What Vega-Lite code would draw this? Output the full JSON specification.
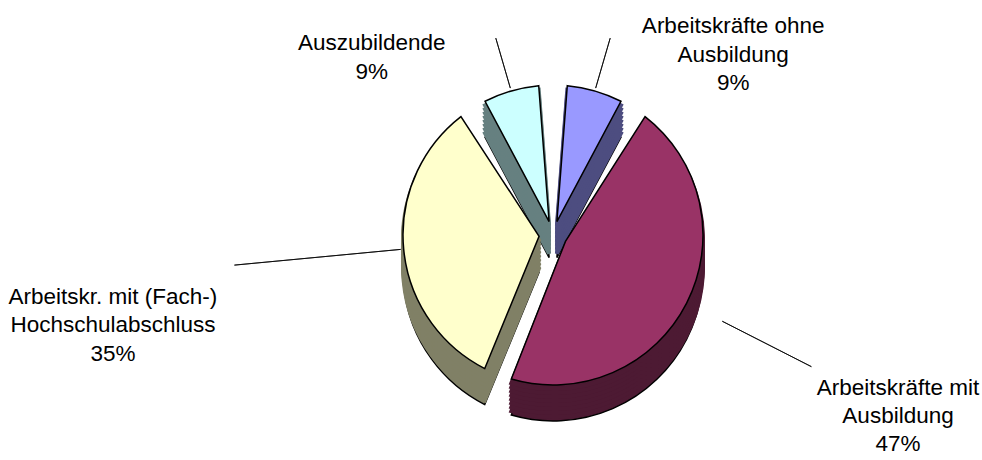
{
  "$schema": "https://vega.github.io/schema/vega-lite/v6.json",
  "width": 858,
  "height": 440,
  "autosize": "none",
  "padding": {"left": 124, "top": 15, "right": 0, "bottom": 5},
  "background": "white",
  "config": {"view": {"stroke": null}},
  "data": {"values": [
    {"idx": 1, "cat": "Arbeitskräfte ohne Ausbildung", "label": "Arbeitskräfte ohne\nAusbildung\n9%", "value": 9},
    {"idx": 2, "cat": "Arbeitskräfte mit Ausbildung", "label": "Arbeitskräfte mit\nAusbildung\n47%", "value": 47},
    {"idx": 3, "cat": "Arbeitskr. mit (Fach-) Hochschulabschluss", "label": "Arbeitskr. mit (Fach-)\nHochschulabschluss\n35%", "value": 35},
    {"idx": 4, "cat": "Auszubildende", "label": "Auszubildende\n9%", "value": 9}
  ]},
  "encoding": {
    "theta": {"field": "value", "type": "quantitative", "stack": true},
    "order": {"field": "idx", "type": "quantitative"}
  },
  "layer": [
    {"mark": {"type": "arc", "outerRadius": 150, "innerRadius": 14, "padAngle": 0.19, "yOffset": 36, "stroke": "black", "strokeWidth": 1.5},
     "encoding": {"fill": {"field": "cat", "type": "nominal", "legend": null, "scale": {"domain": ["Arbeitskräfte ohne Ausbildung", "Arbeitskräfte mit Ausbildung", "Arbeitskr. mit (Fach-) Hochschulabschluss", "Auszubildende"], "range": ["#4D4D80", "#4D1A33", "#808066", "#668080"]}},
       "opacity": {"condition": {"test": "datum.idx==1 || datum.idx==4", "value": 1}, "value": 0}}},
    {"mark": {"type": "arc", "outerRadius": 150, "innerRadius": 14, "padAngle": 0.19, "yOffset": 32, "strokeWidth": 4},
     "encoding": {"fill": {"field": "cat", "type": "nominal", "legend": null}, "stroke": {"field": "cat", "type": "nominal", "legend": null, "scale": {"domain": ["Arbeitskräfte ohne Ausbildung", "Arbeitskräfte mit Ausbildung", "Arbeitskr. mit (Fach-) Hochschulabschluss", "Auszubildende"], "range": ["#4D4D80", "#4D1A33", "#808066", "#668080"]}},
       "opacity": {"condition": {"test": "datum.idx==1 || datum.idx==4", "value": 1}, "value": 0}}},
    {"mark": {"type": "arc", "outerRadius": 150, "innerRadius": 14, "padAngle": 0.19, "yOffset": 28, "strokeWidth": 4},
     "encoding": {"fill": {"field": "cat", "type": "nominal", "legend": null}, "stroke": {"field": "cat", "type": "nominal", "legend": null},
       "opacity": {"condition": {"test": "datum.idx==1 || datum.idx==4", "value": 1}, "value": 0}}},
    {"mark": {"type": "arc", "outerRadius": 150, "innerRadius": 14, "padAngle": 0.19, "yOffset": 24, "strokeWidth": 4},
     "encoding": {"fill": {"field": "cat", "type": "nominal", "legend": null}, "stroke": {"field": "cat", "type": "nominal", "legend": null},
       "opacity": {"condition": {"test": "datum.idx==1 || datum.idx==4", "value": 1}, "value": 0}}},
    {"mark": {"type": "arc", "outerRadius": 150, "innerRadius": 14, "padAngle": 0.19, "yOffset": 20, "strokeWidth": 4},
     "encoding": {"fill": {"field": "cat", "type": "nominal", "legend": null}, "stroke": {"field": "cat", "type": "nominal", "legend": null},
       "opacity": {"condition": {"test": "datum.idx==1 || datum.idx==4", "value": 1}, "value": 0}}},
    {"mark": {"type": "arc", "outerRadius": 150, "innerRadius": 14, "padAngle": 0.19, "yOffset": 16, "strokeWidth": 4},
     "encoding": {"fill": {"field": "cat", "type": "nominal", "legend": null}, "stroke": {"field": "cat", "type": "nominal", "legend": null},
       "opacity": {"condition": {"test": "datum.idx==1 || datum.idx==4", "value": 1}, "value": 0}}},
    {"mark": {"type": "arc", "outerRadius": 150, "innerRadius": 14, "padAngle": 0.19, "yOffset": 12, "strokeWidth": 4},
     "encoding": {"fill": {"field": "cat", "type": "nominal", "legend": null}, "stroke": {"field": "cat", "type": "nominal", "legend": null},
       "opacity": {"condition": {"test": "datum.idx==1 || datum.idx==4", "value": 1}, "value": 0}}},
    {"mark": {"type": "arc", "outerRadius": 150, "innerRadius": 14, "padAngle": 0.19, "yOffset": 8, "strokeWidth": 4},
     "encoding": {"fill": {"field": "cat", "type": "nominal", "legend": null}, "stroke": {"field": "cat", "type": "nominal", "legend": null},
       "opacity": {"condition": {"test": "datum.idx==1 || datum.idx==4", "value": 1}, "value": 0}}},
    {"mark": {"type": "arc", "outerRadius": 150, "innerRadius": 14, "padAngle": 0.19, "yOffset": 4, "strokeWidth": 4},
     "encoding": {"fill": {"field": "cat", "type": "nominal", "legend": null}, "stroke": {"field": "cat", "type": "nominal", "legend": null},
       "opacity": {"condition": {"test": "datum.idx==1 || datum.idx==4", "value": 1}, "value": 0}}},
    {"mark": {"type": "arc", "outerRadius": 150, "innerRadius": 14, "padAngle": 0.19, "stroke": "black", "strokeWidth": 1.5},
     "encoding": {"color": {"field": "cat", "type": "nominal", "legend": null, "scale": {"domain": ["Arbeitskräfte ohne Ausbildung", "Arbeitskräfte mit Ausbildung", "Arbeitskr. mit (Fach-) Hochschulabschluss", "Auszubildende"], "range": ["#9999FF", "#993366", "#FFFFCC", "#CCFFFF"]}},
       "opacity": {"condition": {"test": "datum.idx==1 || datum.idx==4", "value": 1}, "value": 0}}},

    {"mark": {"type": "arc", "outerRadius": 150, "innerRadius": 14, "padAngle": 0.19, "yOffset": 36, "stroke": "black", "strokeWidth": 1.5},
     "encoding": {"fill": {"field": "cat", "type": "nominal", "legend": null},
       "opacity": {"condition": {"test": "datum.idx==2 || datum.idx==3", "value": 1}, "value": 0}}},
    {"mark": {"type": "arc", "outerRadius": 150, "innerRadius": 14, "padAngle": 0.19, "yOffset": 32, "strokeWidth": 4},
     "encoding": {"fill": {"field": "cat", "type": "nominal", "legend": null}, "stroke": {"field": "cat", "type": "nominal", "legend": null},
       "opacity": {"condition": {"test": "datum.idx==2 || datum.idx==3", "value": 1}, "value": 0}}},
    {"mark": {"type": "arc", "outerRadius": 150, "innerRadius": 14, "padAngle": 0.19, "yOffset": 28, "strokeWidth": 4},
     "encoding": {"fill": {"field": "cat", "type": "nominal", "legend": null}, "stroke": {"field": "cat", "type": "nominal", "legend": null},
       "opacity": {"condition": {"test": "datum.idx==2 || datum.idx==3", "value": 1}, "value": 0}}},
    {"mark": {"type": "arc", "outerRadius": 150, "innerRadius": 14, "padAngle": 0.19, "yOffset": 24, "strokeWidth": 4},
     "encoding": {"fill": {"field": "cat", "type": "nominal", "legend": null}, "stroke": {"field": "cat", "type": "nominal", "legend": null},
       "opacity": {"condition": {"test": "datum.idx==2 || datum.idx==3", "value": 1}, "value": 0}}},
    {"mark": {"type": "arc", "outerRadius": 150, "innerRadius": 14, "padAngle": 0.19, "yOffset": 20, "strokeWidth": 4},
     "encoding": {"fill": {"field": "cat", "type": "nominal", "legend": null}, "stroke": {"field": "cat", "type": "nominal", "legend": null},
       "opacity": {"condition": {"test": "datum.idx==2 || datum.idx==3", "value": 1}, "value": 0}}},
    {"mark": {"type": "arc", "outerRadius": 150, "innerRadius": 14, "padAngle": 0.19, "yOffset": 16, "strokeWidth": 4},
     "encoding": {"fill": {"field": "cat", "type": "nominal", "legend": null}, "stroke": {"field": "cat", "type": "nominal", "legend": null},
       "opacity": {"condition": {"test": "datum.idx==2 || datum.idx==3", "value": 1}, "value": 0}}},
    {"mark": {"type": "arc", "outerRadius": 150, "innerRadius": 14, "padAngle": 0.19, "yOffset": 12, "strokeWidth": 4},
     "encoding": {"fill": {"field": "cat", "type": "nominal", "legend": null}, "stroke": {"field": "cat", "type": "nominal", "legend": null},
       "opacity": {"condition": {"test": "datum.idx==2 || datum.idx==3", "value": 1}, "value": 0}}},
    {"mark": {"type": "arc", "outerRadius": 150, "innerRadius": 14, "padAngle": 0.19, "yOffset": 8, "strokeWidth": 4},
     "encoding": {"fill": {"field": "cat", "type": "nominal", "legend": null}, "stroke": {"field": "cat", "type": "nominal", "legend": null},
       "opacity": {"condition": {"test": "datum.idx==2 || datum.idx==3", "value": 1}, "value": 0}}},
    {"mark": {"type": "arc", "outerRadius": 150, "innerRadius": 14, "padAngle": 0.19, "yOffset": 4, "strokeWidth": 4},
     "encoding": {"fill": {"field": "cat", "type": "nominal", "legend": null}, "stroke": {"field": "cat", "type": "nominal", "legend": null},
       "opacity": {"condition": {"test": "datum.idx==2 || datum.idx==3", "value": 1}, "value": 0}}},
    {"mark": {"type": "arc", "outerRadius": 150, "innerRadius": 14, "padAngle": 0.19, "stroke": "black", "strokeWidth": 1.5},
     "encoding": {"color": {"field": "cat", "type": "nominal", "legend": null},
       "opacity": {"condition": {"test": "datum.idx==2 || datum.idx==3", "value": 1}, "value": 0}}},

    {"mark": {"type": "arc", "innerRadius": 153, "outerRadius": 205, "padAngle": 3.1, "fillOpacity": 0, "stroke": "black", "strokeWidth": 0.8},
     "encoding": {"opacity": {"condition": {"test": "datum.idx==1", "value": 1}, "value": 0}}},
    {"mark": {"type": "arc", "innerRadius": 190, "outerRadius": 290, "padAngle": 3.1, "fillOpacity": 0, "stroke": "black", "strokeWidth": 0.8},
     "encoding": {"opacity": {"condition": {"test": "datum.idx==2", "value": 1}, "value": 0}}},
    {"mark": {"type": "arc", "innerRadius": 153, "outerRadius": 320, "padAngle": 3.1, "fillOpacity": 0, "stroke": "black", "strokeWidth": 0.8},
     "encoding": {"opacity": {"condition": {"test": "datum.idx==3", "value": 1}, "value": 0}}},
    {"mark": {"type": "arc", "innerRadius": 153, "outerRadius": 205, "padAngle": 3.1, "fillOpacity": 0, "stroke": "black", "strokeWidth": 0.8},
     "encoding": {"opacity": {"condition": {"test": "datum.idx==4", "value": 1}, "value": 0}}},

    {"mark": {"type": "text", "radius": 230, "dx": 116, "dy": 12, "align": "center", "baseline": "middle", "lineBreak": "\n", "lineHeight": 28.5, "font": "Liberation Sans", "fontSize": 22.5, "color": "black"},
     "encoding": {"text": {"condition": {"test": "datum.idx==1", "field": "label"}, "value": ""}}},
    {"mark": {"type": "text", "radius": 385, "dx": 2, "dy": -22, "align": "center", "baseline": "middle", "lineBreak": "\n", "lineHeight": 28, "font": "Liberation Sans", "fontSize": 22.5, "color": "black"},
     "encoding": {"text": {"condition": {"test": "datum.idx==2", "field": "label"}, "value": ""}}},
    {"mark": {"type": "text", "radius": 445, "dx": 3, "dy": 20, "align": "center", "baseline": "middle", "lineBreak": "\n", "lineHeight": 28.5, "font": "Liberation Sans", "fontSize": 22.5, "color": "black"},
     "encoding": {"text": {"condition": {"test": "datum.idx==3", "field": "label"}, "value": ""}}},
    {"mark": {"type": "text", "radius": 230, "dx": -117, "dy": 29, "align": "center", "baseline": "middle", "lineBreak": "\n", "lineHeight": 28.5, "font": "Liberation Sans", "fontSize": 22.5, "color": "black"},
     "encoding": {"text": {"condition": {"test": "datum.idx==4", "field": "label"}, "value": ""}}}
  ]
}
